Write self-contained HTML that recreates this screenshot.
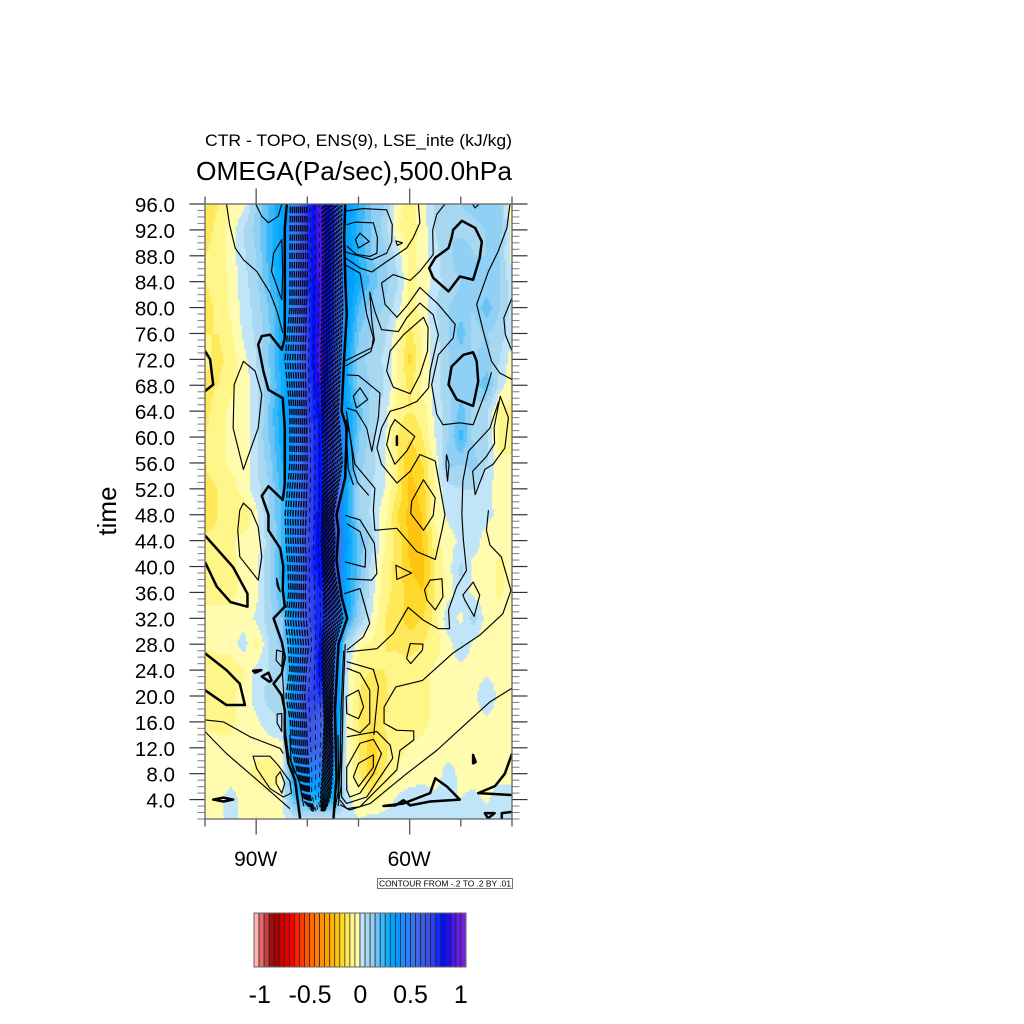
<!DOCTYPE html>
<html lang="en">
<head>
<meta charset="utf-8">
<title>OMEGA Hovmoller</title>
<style>
html,body{margin:0;padding:0;background:#fff;}
svg{display:block;}
text{font-family:"Liberation Sans",sans-serif;fill:#000;}
</style>
</head>
<body>
<svg id="chart" xmlns="http://www.w3.org/2000/svg" width="1024" height="1024" viewBox="0 0 1024 1024">
  <rect x="0" y="0" width="1024" height="1024" fill="#fff"/>
  <text x="205" y="146" font-size="16.8" textLength="307" lengthAdjust="spacingAndGlyphs">CTR - TOPO, ENS(9), LSE_inte (kJ/kg)</text>
  <text x="196" y="180" font-size="26" textLength="316" lengthAdjust="spacingAndGlyphs">OMEGA(Pa/sec),500.0hPa</text>
  <text transform="translate(116,511) rotate(-90)" text-anchor="middle" font-size="26">time</text>
  <defs><clipPath id="plotClip"><rect x="205" y="204" width="307" height="615"/></clipPath></defs>
  <g id="fills" clip-path="url(#plotClip)"></g>
  <g id="core" clip-path="url(#plotClip)" fill="none"></g>
  <g id="contours" clip-path="url(#plotClip)" fill="none" stroke="#000" stroke-linejoin="round"></g>
  <g id="axes"></g>
  <rect x="205" y="204" width="307" height="615" fill="none" stroke="#666" stroke-width="1.3"/>
  <g>
    <rect x="377.5" y="878.5" width="135" height="10" fill="#fff" stroke="#555" stroke-width="0.8"/>
    <text x="379" y="886.5" font-size="8.3" textLength="132" lengthAdjust="spacingAndGlyphs">CONTOUR FROM -.2 TO .2 BY .01</text>
  </g>
  <g id="colorbar"></g>
</svg>
<script>
// ---- grid axes ----
const lonWest = [100,97.5,95,92.5,90,87.5,85,82.5,80,77.5,75,72.5,70,67.5,65,62.5,60,57.5,55,52.5,50,47.5,45,42.5,40];
const timeHours = [96,92,88,84,80,76,72,68,64,60,56,52,48,44,40,36,32,28,24,20,16,12,8,4,1];
// ---- omega values, one row per time, one column per longitude (Pa/s) ----
const omegaValues = [
[-.15,-.1,-.05,-.02,.1, .2,.3,.5,.75,.95, .75,.35,.25,.15,.1, -.04,-.07,-.02,.05,.08, .1,.12,.15,.12,-.05],
[-.13,-.08,-.03,.05,.12, .22,.32,.5,.75,.95, .75,.35,.22,.15,.08, -.04,-.08,-.03,.05,.1, .08,.08,.1,.12,-.03],
[-.1,-.08,-.03,.04,.1, .22,.33,.5,.75,.95, .75,.38,.25,.15,.12, .03,-.07,-.03,.03,.08, .15,.1,.1,.1,-.02],
[-.1,-.08,-.04,.03,.08, .2,.3,.5,.75,.92, .75,.38,.28,.18,.12, .06,-.06,-.04,.03,.07, .1,.1,.1,.1,.02],
[-.12,-.09,-.04,.02,.07, .15,.28,.5,.72,.92, .75,.38,.2,.12,.1, .02,-.06,-.04,.05,.1, .12,.1,.18,.1,.03],
[-.1,-.1,-.06,.01,.06, .14,.28,.48,.72,.92, .75,.35,.15,.1,.06, -.03,-.12,-.04,.03,.1, .18,.08,.1,.08,.01],
[-.08,-.12,-.08,-.02,.05, .15,.28,.42,.72,.95, .72,.3,.12,.08,.04, -.04,-.17,-.04,.02,.1, .12,.1,.12,.05,-.03],
[-.12,-.1,-.06,-.04,.03, .13,.26,.42,.7,.9, .7,.3,.12,.1,.05, -.04,-.12,-.04,.02,.1, .1,.12,.18,.03,-.04],
[-.12,-.07,-.04,-.04,.03, .15,.3,.42,.7,.85, .7,.33,.18,.08,.03, -.08,-.1,-.08,.02,.07, .18,.08,.05,-.07,-.07],
[-.1,-.07,-.04,-.04,.04, .15,.28,.42,.68,.82, .7,.35,.15,.07,.01, -.1,-.15,-.1,0,.1, .22,.08,.06,-.07,-.07],
[-.1,-.07,-.04,-.04,.04, .12,.25,.42,.68,.82, .7,.33,.12,.07,.01, -.1,-.2,-.15,-.03,.12, .1,.12,.05,-.04,-.04],
[-.12,-.1,-.07,-.03,.03, .1,.22,.42,.68,.82, .7,.3,.1,.05,0, -.1,-.22,-.18,-.03,.03, .05,.05,.03,-.04,-.04],
[-.15,-.1,-.07,-.1,-.02, .1,.2,.42,.68,.85, .7,.3,.1,.04,-.03, -.15,-.22,-.2,-.04,.01, .03,.03,.02,-.02,-.03],
[-.08,-.08,-.06,-.03,-.03, .08,.2,.42,.68,.85, .72,.35,.18,.08,-.04, -.12,-.22,-.2,-.07,-.02, .01,.03,-.03,-.04,-.03],
[-.07,-.06,-.06,-.04,-.02, .08,.25,.42,.7,.85, .7,.3,.18,.03,-.07, -.12,-.2,-.22,-.1,-.02, .06,-.02,-.03,-.06,-.04],
[-.06,-.06,-.06,-.04,-.02, .08,.2,.42,.68,.8, .68,.32,.15,.02,-.08, -.12,-.18,-.2,-.1,-.03, .05,-.02,-.03,-.06,-.03],
[-.04,-.04,-.04,-.03,.01, .08,.15,.38,.65,.8, .65,.3,.1,0,-.1, -.13,-.18,-.15,-.08,.05, -.02,.08,-.03,-.03,-.03],
[-.04,-.04,-.03,.03,-.07, .05,.12,.35,.6,.82, .6,.08,-.04,-.06,-.1, -.11,-.12,-.1,-.07,-.03, .06,-.02,-.03,-.03,-.03],
[-.1,-.07,-.08,-.06,.02, .05,.1,.35,.6,.85, .55,.03,-.08,-.1,-.1, -.08,-.08,-.07,-.04,-.03, -.03,-.02,-.02,-.02,-.02],
[-.07,-.06,-.06,-.03,.02, .07,.08,.42,.7,.75, .6,.02,-.1,-.15,-.12, -.06,-.08,-.07,-.04,-.03, -.02,-.02,.05,-.02,-.02],
[-.06,-.06,-.06,-.03,-.01, .03,.05,.42,.65,.6, .55,.01,-.1,-.15,-.1, -.06,-.06,-.06,-.04,-.03, -.03,-.02,-.02,-.02,-.02],
[-.03,-.04,-.04,-.04,-.04, -.03,-.02,.42,.6,.6, .5,.01,-.1,-.18,-.12, -.06,-.05,-.04,-.04,-.03, -.03,-.03,-.02,-.02,-.02],
[-.02,-.03,-.03,-.04,-.06, -.08,-.05,.3,.4,.45, .35,0,-.1,-.18,-.1, -.05,-.03,-.03,-.03,.03, -.02,-.03,-.02,-.02,-.02],
[-.02,-.02,.03,-.02,-.03, -.04,-.02,.2,.25,.25, .25,.02,-.02,-.07,-.04, .01,.03,.04,.02,0, 0,.02,-.01,.03,.03],
[-.01,-.02,.02,-.02,-.06, -.02,-.01,.02,.02,.02, .02,.02,0,.02,.03, .03,.03,.03,.03,.03, .03,.04,.03,.04,.03]
];
// ---- colour table and labels ----
const bandColors = ["#ffb0b0","#e86868","#c84040","#a01010","#b00000","#c80000","#e00000","#f80000","#ff2000","#ff3a00","#ff5500","#ff6a00","#ff7d00","#ff8f00","#ffa000","#ffb000","#ffc410","#ffd82a","#ffe95a","#fff68a","#fffcb0",
"#c0e4f8","#a8d8f0","#90d0f4","#68c4f4","#38b8f8","#10aeff","#00a4ff","#0a98ff","#1a8cff","#2a80f8","#3474f0","#3c68e8","#3c5ce8","#3850e8","#2c40f0","#1428f8","#0010ff","#2010f0","#4818e8","#6020e0","#7a20e0"];
const colorbarTicks = [-1,-0.5,0,0.5,1];
const colorbarLabels = ["-1","-0.5","0","0.5","1"];
const timeTickValues = [4,8,12,16,20,24,28,32,36,40,44,48,52,56,60,64,68,72,76,80,84,88,92,96];
const timeTickLabels = ["4.0","8.0","12.0","16.0","20.0","24.0","28.0","32.0","36.0","40.0","44.0","48.0","52.0","56.0","60.0","64.0","68.0","72.0","76.0","80.0","84.0","88.0","92.0","96.0"];
const lonTickValues = [100,90,80,70,60,50,40];
const lonTickLabels = ["","90W","","","60W","",""];
// ---- core dashed contour envelopes (degrees west by hour) ----
const coreTimes = [97,88,80,72,64,56,48,44,40,36,32,28,24,20,16,12,8,5,3.5,2.2];
const coreLeft  = [83.5,83.6,83.6,84.6,83.6,83.6,84.6,84.4,84,83.8,84.6,84,83.6,84.4,83.5,83.3,82,81.2,80.5,79];
const coreMidA  = [80,79.7,80,80.2,80,79.8,80,80.2,80,80.2,80,79.5,80,80.3,80,79.8,79.5,79.5,79,78.5];
const coreMidB  = [77.3,77.2,77.3,77.5,77.3,77.1,77.2,77.4,77.1,77,76.9,77.3,77.2,77,76.8,77,77.2,77.5,77.5,77.3];
const coreRight = [73.1,73.2,72.9,73.3,73.8,73,74.8,74.5,74.7,73.8,72.9,74.4,74.7,74.9,75.1,74.9,75,75.3,75.8,76.6];
// ---- traced contour lines as [degrees west, hour] ----
const thinOpen = [
[[95.8,96],[95.2,92.8],[94.1,89.2],[92.5,87.4],[89.9,85.6],[87.3,82.3],[85.9,79.4],[84.8,76.1]],
[[90.1,96],[88.9,94.1],[87.6,93.1],[85.7,94.1],[85,96]],
[[72.6,94.9],[69.1,95.3],[64.5,95.1],[63.4,92.8],[63.5,90.2],[64.5,88.4],[67.4,87.4],[72.6,88.6]],
[[72.3,92.8],[70.7,93.2],[67.1,93.1],[66.3,90.8],[66.4,88.4],[67.8,87.9],[70.4,88.2],[72.3,89.5]],
[[72.6,87.7],[69.7,86.1],[67.4,85.5],[64.5,87.1],[60.6,89.2],[59.3,90.8],[58,93.1],[58.3,96]],
[[72.6,86.6],[69.7,85.3],[68.9,81.5],[68.4,79],[67.1,75.3],[67.4,73.8],[72.5,71.8]],
[[72.5,71],[67.6,73.2],[66.9,75],[67.4,78],[67.8,82.4],[66.8,79.4],[65.5,76.6],[62.2,76.3],[60.6,78.4],[58,80.7],[55.4,78.9],[54.4,75.8],[56,70.2],[56.3,67.6],[58.6,65.5],[61.2,64.6],[63.8,64],[65.5,61.4],[66.4,58.3],[65.5,55.8],[62.5,52.9],[59.9,54.7],[58,57.3],[55,56.3],[53.1,48],[53.7,45.6],[55,41.1],[58.6,42.3],[62.5,45.9],[66.8,45.6],[67.1,48.7],[66.8,52.1],[70.7,55.8],[71.7,60.4],[72.4,62.7]],
[[53.1,96],[54.7,94.4],[55.5,92],[55.4,88.2],[58,85.6],[59.9,84.2],[63.2,85.1],[65.5,83.8],[64.8,80.5],[62.5,78.5],[60.6,80.2],[58,83.1],[54.4,80.5],[51.1,77.4],[51.5,75.3],[54.4,72.7],[55.7,68.1],[54.7,63.5],[53.5,61.9],[50.2,62.2],[47.6,61.9],[45,67.3],[44,70]],
[[72.3,69.6],[70,69.5],[65.8,66.8],[66.1,63],[67.4,57.8],[68.4,61.4],[70.4,64],[72.3,64.5]],
[[47.7,96],[47.2,95.4],[46.4,96]],
[[40.4,96],[41,92.3],[42.7,88.7],[44.6,85.6],[46.9,80.5],[45.6,76.3],[44,71.7],[42.4,69.9],[40,68.9]],
[[40,81.5],[41.6,78.4],[41.3,75.8],[40,73.3]],
[[42.6,65.5],[44.3,61.4],[48.5,57.8],[49.6,53.2],[49.8,48],[49.5,44.1],[48.9,39.4],[50.8,36.9],[52.4,33.3],[52.2,30.4],[54.4,30.4],[57.3,31.7],[60.3,33.7],[63.2,29.7],[66.4,27.3],[72.3,26.8]],
[[72.6,47.9],[69.7,47.2],[66.9,43.6],[66.4,38.9],[67.4,37.9],[72.3,38.1]],
[[72.3,46.6],[69.7,45.4],[68.6,42.5],[68.7,39.9],[72.6,40.7]],
[[72.8,35.8],[69.7,36.6],[68.7,33.8],[67.8,31.2],[69.1,29.1],[72.3,27.1]],
[[44.6,48.7],[45,45.6],[44.3,43.3],[42.1,41.5],[40.2,36.3],[41.8,32.7],[46.3,29.4],[51.6,26.6],[57.5,22.4],[62.7,21.4],[65,18.3],[65,15.8],[62.5,14.7],[59.2,14.6],[59.2,13.2],[61.9,11.6],[62.5,8.6],[69.7,2.9],[72.3,2.6],[73.6,3.9]],
[[72.3,24.3],[69.7,23.5],[67.8,20.9],[67.8,15.8],[69.7,14.3],[72.3,15.2]],
[[72.3,25.3],[67.1,24.1],[66.1,21.4],[66.8,15.8],[67,14]],
[[72.3,13.7],[66.4,14.5],[63.8,12.4],[63.3,10.4],[68.4,4.4],[72.3,3.4],[73.3,4.4],[73.5,12.7]],
[[40,21.2],[44.3,19.1],[48.9,15.8],[54.7,11.6],[60.6,8],[67.7,3.4],[71.7,2.4],[73.6,3.2]],
[[100,16.3],[96.4,16],[91.2,13.7],[85.3,11.9],[84.7,11.1]],
[[100,14.5],[95.8,11.1],[88.3,6],[83.4,2.6]],
[[83.4,14],[83.2,10],[81.5,6.5],[80.7,3]],
[[74,14],[73.9,9],[74,5],[74.6,2.6]],
[[72.6,28],[73,20],[73.2,12],[73.4,6],[74,3]],
[[72.9,27],[73.4,18],[73.6,10],[73.9,4]],
[[72.4,64],[71.8,61],[71.3,58],[71,55],[70.2,53],[68,51]],
[[72.6,62],[72.2,58],[72,55],[71,52.6]],
[[84.9,24],[84.6,20],[84.2,14],[83.7,11],[82.5,8]]
];
const thinClosed = [
[[85,90.5],[86.6,88.4],[87,85.6],[85,81.2],[84.8,85.6]],
[[92.5,71.7],[90.2,70.2],[88.9,66.6],[89.6,61.4],[92.5,55],[94.5,61.4],[94.3,68.1]],
[[92.5,49.8],[93.2,48.7],[93.6,45.6],[93.2,41.5],[89.6,37.9],[88.9,41.5],[89.6,46.1],[91,48.7]],
[[69.7,91.5],[67.9,90.2],[70,89.2],[70.6,90.5]],
[[62.7,90.3],[61.4,90],[62.4,89.6]],
[[57.3,78.5],[56.4,76.9],[56.5,73.3],[58,69.6],[59.9,66.7],[63.2,67.7],[64.5,70.2],[63.8,73.3],[61.2,75.8]],
[[62.9,62.7],[59,60.1],[60.6,57.8],[62.9,55.8],[64.5,58.8],[63.8,61.4]],
[[69.7,67.6],[68.2,65.8],[70.4,64.5],[71,66.3]],
[[52.8,57.3],[52.3,55.8],[52.6,53.2],[52.9,55.8]],
[[42.3,66.3],[40.7,63],[41.4,58.3],[43.7,55.8],[45.3,55],[47.2,51.1],[47.7,54.7],[45,57],[43.4,59],[43.5,61.5]],
[[57.3,53.4],[59.6,50.1],[59.8,48.2],[57.3,45.6],[55.4,47.9],[55,50.6]],
[[62.7,40.2],[59.6,39],[62.5,38]],
[[56,37.9],[53.7,38.1],[53.5,35.3],[55,33.3],[56.6,34.8],[57.1,36.4]],
[[59.9,28.1],[57.4,28],[57.5,27.1],[59.8,25],[60.6,25.8]],
[[47.6,37.6],[46.3,35.6],[47.4,32.3],[49.2,34.8],[49.6,35.6]],
[[70,20.9],[69,18.3],[70,16.5],[72.3,17.3],[72.4,19.9]],
[[67.1,10.9],[67.1,9],[70,6],[71,7.5],[70,9.6]],
[[67.1,13.3],[65.5,11.1],[67.1,8],[69.7,5],[71.7,4.4],[72.3,5.5],[72.3,9],[69.7,12.7]],
[[90.6,10.7],[87.3,10.7],[85.7,9.3],[83.4,6.8],[83.1,5],[84.7,4.4],[87.3,5.7],[89.9,8.8]],
[[85.3,8.3],[84.4,6.5],[85,5],[86.1,6.5],[86.1,7.5]],
[[86,38.2],[85.3,36.1],[85.9,37]],
[[86,27.1],[84.8,26.8],[85,24.5],[86.1,25.5]],
[[85.9,17.2],[85,17.3],[85,14.5],[85.9,15.8]]
];
const thickOpen = [
[[84,96],[84.4,92.3],[84.4,87.1],[84.4,82],[84.4,75.3],[85,73.5],[87.3,75.8],[88.9,75.6],[89.6,74.3],[88.6,70.2],[87.6,67.3],[84.8,66],[84.4,61.4],[84.4,52.7],[84.8,50.3],[87.6,52.4],[88.9,50.9],[87.6,48],[87.6,45.6],[85.3,42.8],[84.7,40],[84.8,36.4],[84.4,33.8],[86.6,32],[85,28.4],[84.4,26],[85,23.5],[86.6,21.9],[85,20.1],[84.4,17.8],[84.4,13.7],[83.7,9.6],[82.4,7],[81.4,1]],
[[72.6,96],[72.8,90.8],[72.6,84.6],[72.3,78.9],[72.8,72.2],[73.3,64],[72.3,61.4],[72.6,53.7],[74.3,48],[73.9,45.6],[74.3,41],[73.3,35.3],[72.2,32],[73.9,28.1],[74.6,17.8],[74.3,7.5],[74.9,1]],
[[100,73.3],[99,72],[98.4,68.1],[100,67.1]],
[[100,44.8],[94.5,39.9],[91.7,35.8],[91.7,33.8],[95,34.5],[97.7,36.9],[100,40.7]],
[[100,26.6],[95.8,24],[93.2,21.9],[92.2,18.6],[95.8,18.6],[100,20.9]],
[[40,11.1],[41.4,8],[43.3,6.1],[46.6,5],[40,4.7]],
[[40,2.1],[42,1.9],[42,1]]
];
const thickClosed = [
[[51.5,92],[49.8,93.4],[47.2,92.3],[45.9,90.2],[46.3,87.7],[47.6,84.3],[50.2,84.8],[52.4,82.5],[55.4,84.6],[56.2,86.1],[55,87.7],[52.4,89.2],[51.8,90.8]],
[[47.6,73.1],[46.9,71.7],[46.6,68.6],[47.6,64.8],[50.8,65.8],[52.4,68.1],[51.8,70.9],[49.5,72.7]],
[[62.5,60.1],[62.5,58.8]],
[[98.4,4],[96.4,4.3],[94.5,4],[96.4,3.7]],
[[90.6,23.9],[89,24],[90.2,23.6]],
[[88.9,23],[87.6,23.6],[87,22.4],[87.4,22.2]],
[[65.1,3],[61.2,3.4],[56,5],[55,7.3],[52.7,6],[50.2,4],[56,3.7],[59.9,3.1],[61.2,3.9],[62.8,3.1]],
[[47.6,10.9],[47.1,9.8],[47.6,9.6]],
[[45.3,1.9],[43.4,1.9],[44.7,1.1]]
];

const SVGNS = "http://www.w3.org/2000/svg";
const X0=205, X1=512, Y0=819, Y1=204;
function xScale(w){ return X0+(100-w)/60*(X1-X0); }
function yScale(t){ return Y0-(t-1)/95*(Y0-Y1); }
function cbScale(v){ return 259.8+(v+1)/2*201; }
function makeEl(tag,attrs,parent){
  const el=document.createElementNS(SVGNS,tag);
  for(const k in attrs) el.setAttribute(k,attrs[k]);
  parent.appendChild(el);
  return el;
}
function bandIndex(v){
  const k=Math.floor((v+1)/0.05+1e-9)+1;
  return Math.max(0,Math.min(bandColors.length-1,k));
}
function fieldAt(w,t){
  let c=0; while(c<lonWest.length-2 && w<lonWest[c+1]) c++;
  let r=0; while(r<timeHours.length-2 && t<timeHours[r+1]) r++;
  const fx=(lonWest[c]-w)/(lonWest[c]-lonWest[c+1]);
  const fy=(timeHours[r]-t)/(timeHours[r]-timeHours[r+1]);
  const a=omegaValues[r][c],b=omegaValues[r][c+1],d=omegaValues[r+1][c],e=omegaValues[r+1][c+1];
  return (a*(1-fx)+b*fx)*(1-fy)+(d*(1-fx)+e*fx)*fy;
}
// filled bands: one path per colour level
(function(){
  const g=document.getElementById("fills");
  const segs=bandColors.map(()=>[]);
  const nx=150, ny=250, dx=(X1-X0)/nx, dy=(Y0-Y1)/ny;
  for(let j=0;j<ny;j++){
    const py=Y1+j*dy, t=1+(Y0-(py+dy/2))/(Y0-Y1)*95;
    let start=0, cur=-1;
    for(let i=0;i<=nx;i++){
      const k=i<nx?bandIndex(fieldAt(100-(i+0.5)*dx/(X1-X0)*60,t)):-2;
      if(k!==cur){
        if(cur>=0) segs[cur].push("M"+(X0+start*dx).toFixed(2)+" "+py.toFixed(2)+"h"+((i-start)*dx+0.3).toFixed(2)+"v"+(dy+0.3).toFixed(2)+"H"+(X0+start*dx).toFixed(2)+"z");
        start=i; cur=k;
      }
    }
  }
  segs.forEach((s,k)=>{
    if(!s.length) return;
    const p=makeEl("path",{d:s.join(""),fill:bandColors[k]},g);
    
    
  });
})();
// core dashed contours
(function(){
  const g=document.getElementById("core");
  function drawBand(a,b,n,color,dash,width,stagger,name){
    for(let i=0;i<n;i++){
      const f=(i+0.5)/n;
      const d=coreTimes.map((t,m)=>{
        const w=a[m]+(b[m]-a[m])*f;
        return (m?"L":"M")+xScale(w).toFixed(2)+" "+yScale(t).toFixed(2);
      }).join("");
      const p=makeEl("path",{d:d,stroke:color,"stroke-width":width,"stroke-dasharray":dash,"stroke-dashoffset":(stagger*i).toFixed(1)},g);
      
      
    }
  }
  drawBand(coreLeft,coreMidA,9,"#06081a","6.4 2.8",1.35,0,"core-left-contour");
  drawBand(coreMidA,coreMidB,3,"#0a0a30","5 5",0.9,2.5,"core-mid-contour");
  drawBand(coreMidB,coreRight,13,"#04040c","3 1.5",1.3,1.3,"core-right-contour");
})();
// traced contours
(function(){
  const g=document.getElementById("contours");
  function draw(list,closed,width,name){
    list.forEach(line=>{
      const d=line.map((p,i)=>(i?"L":"M")+xScale(p[0]).toFixed(2)+" "+yScale(p[1]).toFixed(2)).join("")+(closed?"z":"");
      const p=makeEl("path",{d:d,"stroke-width":width},g);
      
      
    });
  }
  draw(thinOpen,false,1.15,"contour-line");
  draw(thinClosed,true,1.15,"contour-loop");
  draw(thickOpen,false,2.5,"zero-contour-line");
  draw(thickClosed,true,2.5,"zero-contour-loop");
})();
// axes
(function(){
  const g=document.getElementById("axes");
  const grey="#555";
  for(let t=1;t<=96;t++){
    const y=yScale(t), major=timeTickValues.indexOf(t)>=0;
    const len=major?15.5:7.5;
    const a=makeEl("line",{x1:X0-len,x2:X0,y1:y,y2:y,stroke:major?"#333":"#888","stroke-width":major?1.2:1.1},g);
    
    
    const b=makeEl("line",{x1:X1,x2:X1+len,y1:y,y2:y,stroke:major?"#333":"#888","stroke-width":major?1.2:1.1},g);
    
    
  }
  timeTickValues.forEach((t,i)=>{
    const el=makeEl("text",{x:175,y:yScale(t)+8,"font-size":20.6,"text-anchor":"end"},g);
    el.textContent=timeTickLabels[i];
    
    
  });
  lonTickValues.forEach((w,i)=>{
    const x=xScale(w), major=lonTickLabels[i]!=="";
    const len=major?15.5:7.5;
    const a=makeEl("line",{x1:x,x2:x,y1:Y0,y2:Y0+len,stroke:grey,"stroke-width":1.3},g);
    
    
    const b=makeEl("line",{x1:x,x2:x,y1:Y1-len,y2:Y1,stroke:grey,"stroke-width":1.3},g);
    
    
    if(major){
      const el=makeEl("text",{x:x-0.5,y:866,"font-size":21,"text-anchor":"middle"},g);
      el.textContent=lonTickLabels[i];
      
      
    }
  });
})();
// colorbar
(function(){
  const g=document.getElementById("colorbar");
  const bx=254, bw=212/bandColors.length, by=913, bh=54;
  bandColors.forEach((c,i)=>{
    const r=makeEl("rect",{x:bx+i*bw,y:by,width:bw,height:bh,fill:c,stroke:"#222","stroke-width":0.7},g);
    
    
  });
  const o=makeEl("rect",{x:bx,y:by,width:212,height:bh,fill:"none",stroke:"#666","stroke-width":1},g);
  
  
  colorbarTicks.forEach((v,i)=>{
    const t=makeEl("text",{x:cbScale(v),y:1003,"font-size":25,"text-anchor":"middle"},g);
    t.textContent=colorbarLabels[i];
    
    
  });
})();
</script>
</body>
</html>
